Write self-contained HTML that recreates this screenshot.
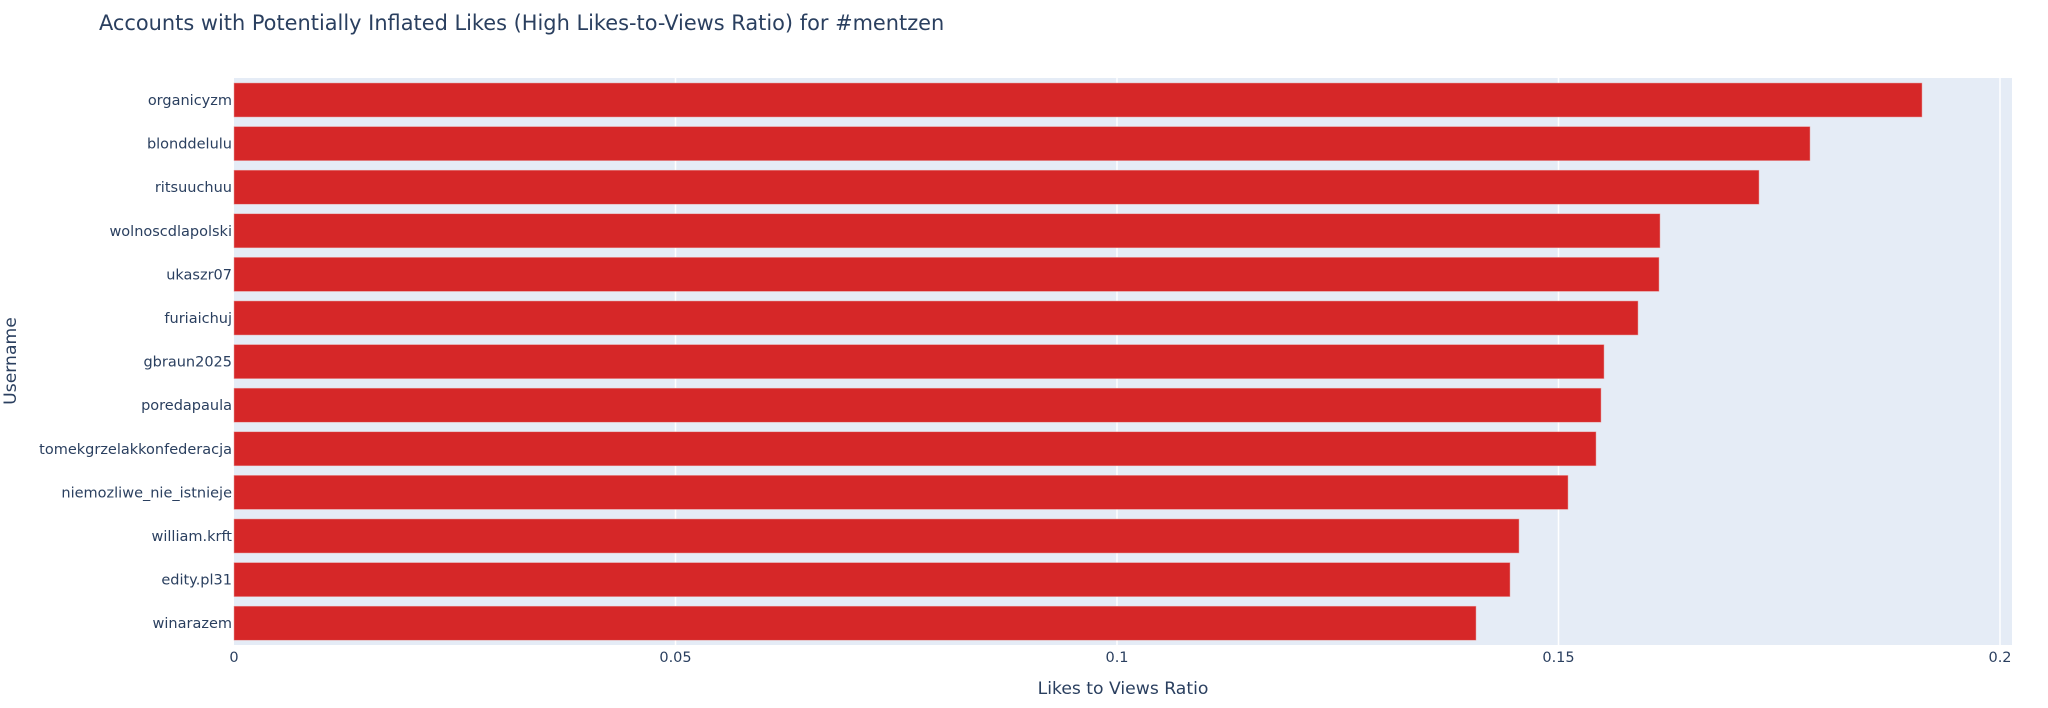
<!DOCTYPE html>
<html><head><meta charset="utf-8"><style>
html,body{margin:0;padding:0;background:#fff;}
svg{display:block;font-family:"DejaVu Sans","Liberation Sans",sans-serif;}
</style></head><body>
<svg width="2048" height="708" xmlns="http://www.w3.org/2000/svg">
<rect width="2048" height="708" fill="#fff"/>
<text x="99" y="30" font-size="20.9" fill="#2a3f5f">Accounts with Potentially Inflated Likes (High Likes-to-Views Ratio) for #mentzen</text>
<rect x="234" y="78" width="1778" height="567" fill="#e5ecf6"/>
<g stroke="#fff" stroke-width="1.5">
<line x1="675.5" y1="78" x2="675.5" y2="645"/>
<line x1="1117" y1="78" x2="1117" y2="645"/>
<line x1="1558.5" y1="78" x2="1558.5" y2="645"/>
<line x1="2000" y1="78" x2="2000" y2="645"/>
</g>
<g fill="#d62728" stroke="#e8a0a0" stroke-width="0.5">
<rect x="234" y="83" width="1688" height="34"/>
<rect x="234" y="126.6" width="1576" height="34"/>
<rect x="234" y="170.2" width="1525" height="34"/>
<rect x="234" y="213.8" width="1426" height="34"/>
<rect x="234" y="257.4" width="1425" height="34"/>
<rect x="234" y="301" width="1404" height="34"/>
<rect x="234" y="344.6" width="1370" height="34"/>
<rect x="234" y="388.2" width="1367" height="34"/>
<rect x="234" y="431.8" width="1362" height="34"/>
<rect x="234" y="475.4" width="1334" height="34"/>
<rect x="234" y="519" width="1285" height="34"/>
<rect x="234" y="562.6" width="1276" height="34"/>
<rect x="234" y="606.2" width="1242" height="34"/>
</g>
<g font-size="14.5" fill="#2a3f5f" text-anchor="end">
<text x="232" y="105">organicyzm</text>
<text x="232" y="148.6">blonddelulu</text>
<text x="232" y="192.2">ritsuuchuu</text>
<text x="232" y="235.8">wolnoscdlapolski</text>
<text x="232" y="279.4">ukaszr07</text>
<text x="232" y="323">furiaichuj</text>
<text x="232" y="366.6">gbraun2025</text>
<text x="232" y="410.2">poredapaula</text>
<text x="232" y="453.8">tomekgrzelakkonfederacja</text>
<text x="232" y="497.4">niemozliwe_nie_istnieje</text>
<text x="232" y="541">william.krft</text>
<text x="232" y="584.6">edity.pl31</text>
<text x="232" y="628.2">winarazem</text>
</g>
<g font-size="14.5" fill="#2a3f5f" text-anchor="middle">
<text x="234" y="662">0</text>
<text x="675.5" y="662">0.05</text>
<text x="1117" y="662">0.1</text>
<text x="1558.5" y="662">0.15</text>
<text x="2000" y="662">0.2</text>
</g>
<text x="1123" y="694" font-size="17.2" fill="#2a3f5f" text-anchor="middle">Likes to Views Ratio</text>
<text transform="translate(16,361) rotate(-90)" font-size="17.2" fill="#2a3f5f" text-anchor="middle">Username</text>
</svg>
</body></html>
